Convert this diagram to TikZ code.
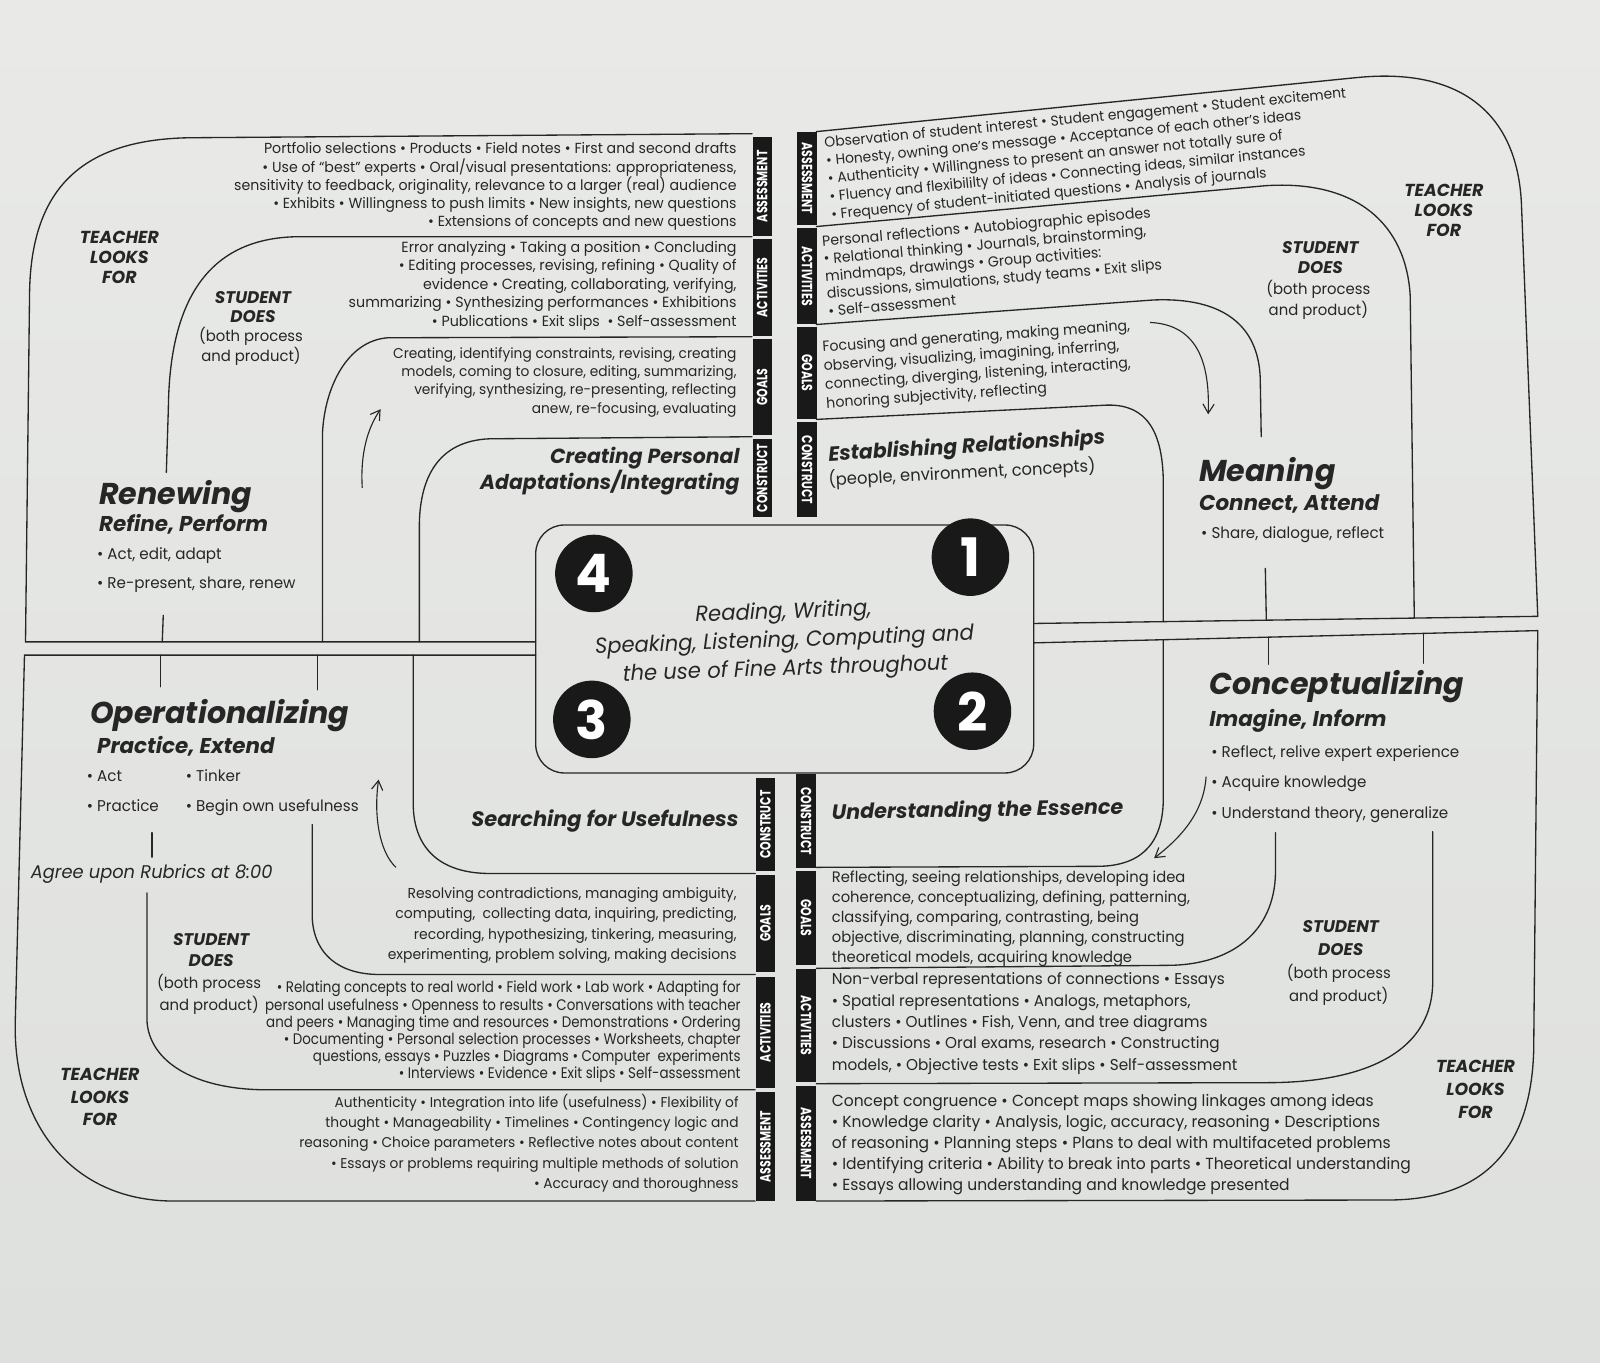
\documentclass[tikz,border=0pt]{standalone}
\usepackage{fontspec}
\setmainfont{Poppins}
\newfontfamily\fut[FakeStretch=0.97]{Poppins}
\newfontfamily\futc[FakeStretch=0.877]{Poppins}
\newfontfamily\barf[FakeStretch=0.74]{Poppins}
\newfontfamily\hdf{Poppins}
\usetikzlibrary{arrows.meta}
\definecolor{paperT}{HTML}{E9EAE8}
\definecolor{paperB}{HTML}{DEE0DD}
\definecolor{ink}{HTML}{262626}
\newcommand{\fs}[2]{\fontsize{#1}{#2}\selectfont}
\begin{document}
\begin{tikzpicture}[x=1pt,y=-1pt,
  ln/.style={draw=ink,line width=1.3pt,line cap=round},
  arr/.style={draw=ink,line width=1.1pt,-{Straight Barb[length=9pt,width=11pt]}},
  barn/.style={fill=black!90,text=white,font=\barf\bfseries\fs{14.5}{14.5},inner sep=0,minimum height=19},
  txR/.style={align=right,anchor=base east,inner sep=0,text=ink},
  txL/.style={align=left,anchor=base west,inner sep=0,text=ink},
  txC/.style={align=center,anchor=base,inner sep=0,text=ink},
  hdA/.style={font=\hdf\bfseries\itshape\fs{29.5}{29.5}},
  hdB/.style={font=\hdf\bfseries\itshape\fs{21}{21}},
  hdC/.style={font=\hdf\bfseries\itshape\fs{20}{23}},
  lab/.style={font=\hdf\bfseries\itshape\fs{17}{19.5}},
  numc/.style={circle,fill=black!90,text=white,minimum size=76,inner sep=0,font=\hdf\bfseries\fs{52}{52}}
]
\useasboundingbox (0,0) rectangle (1568,1335);
\shade[top color=paperT,bottom color=paperB] (0,0) rectangle (1568,1335);

% ---------- upper left quadrant lines
\draw[ln] (737,131) -- (185,135) .. controls (75,137) and (31,190) .. (29,285) -- (25,629) -- (525,629);
\draw[ln] (737,232) -- (290,232) .. controls (200,234) and (166,300) .. (165,400) -- (163,463);
\draw[ln] (160,603) -- (159,629);
\draw[ln] (737,330) -- (380,331) .. controls (340,334) and (318,380) .. (316,425) -- (316,629);
\draw[ln] (737,428) -- (480,430) .. controls (428,432) and (412,470) .. (411,512) -- (411,629);
% ---------- upper right quadrant lines
\draw[ln] (800,129) -- (1330,76) .. controls (1430,66) and (1487,110) .. (1491,200) -- (1507,604) -- (1013,611);
\draw[ln] (800,222) -- (1240,182) .. controls (1330,176) and (1378,220) .. (1382,290) -- (1386,605.7);
\draw[ln] (800,318) -- (1130,294) .. controls (1200,291) and (1233,320) .. (1235,370) -- (1236,428);
\draw[ln] (1240,557) -- (1241,607.8);
\draw[ln] (800,411) -- (1085,397) .. controls (1125,396) and (1139,425) .. (1140,470) -- (1140,609.2);
% ---------- lower right quadrant lines
\draw[ln] (1013,630) -- (1507,618) -- (1503,1030) .. controls (1500,1130) and (1450,1176) .. (1360,1176) -- (800,1177);
\draw[ln] (1395,620.7) -- (1395,650);
\draw[ln] (1404,815) -- (1404,965) .. controls (1402,1035) and (1330,1061) .. (1242,1061) -- (800,1062);
\draw[ln] (1243,624.4) -- (1243,651);
\draw[ln] (1250,816) -- (1250,855) .. controls (1249,915) and (1205,945) .. (1147,946) -- (800,949);
\draw[ln] (1140,626.9) -- (1140,785) .. controls (1139,830) and (1115,849) .. (1075,849) -- (800,850);
% ---------- lower left quadrant lines
\draw[ln] (525,642) -- (24,642) -- (15,1000) .. controls (12,1100) and (70,1177) .. (170,1177) -- (740,1177);
\draw[ln] (157,642) -- (157,673);
\draw[ln] (149,816) -- (149,840);
\draw[ln] (144,875) -- (144,1000) .. controls (146,1040) and (190,1068) .. (262,1068) -- (740,1068);
\draw[ln] (311,642) -- (311,676);
\draw[ln] (306,808) -- (306,900) .. controls (308,935) and (332,955) .. (372,955) -- (740,955);
\draw[ln] (405,642) -- (405,790) .. controls (406,832) and (432,856) .. (480,856) -- (740,856);

% ---------- centre box
\node[draw=ink,line width=1.3pt,rounded corners=28pt,minimum width=488,minimum height=243,inner sep=0] (core) at (769,636) {};

% ---------- label bars
\node[barn,rotate=90,minimum width=97] (ulbA) at (747,182.5) {ASSESSMENT};
\node[barn,rotate=90,minimum width=95] (ulbB) at (747,281.5) {ACTIVITIES};
\node[barn,rotate=90,minimum width=94] (ulbC) at (747,379.5) {GOALS};
\node[barn,rotate=90,minimum width=77] (ulbD) at (747,468.5) {CONSTRUCT};
\node[barn,rotate=-90,minimum width=91] (urbA) at (791,175) {ASSESSMENT};
\node[barn,rotate=-90,minimum width=94] (urbB) at (791,270.5) {ACTIVITIES};
\node[barn,rotate=-90,minimum width=90] (urbC) at (791,365.5) {GOALS};
\node[barn,rotate=-90,minimum width=93] (urbD) at (791,460.5) {CONSTRUCT};
\node[barn,rotate=90,minimum width=92] (llbD) at (750,808) {CONSTRUCT};
\node[barn,rotate=90,minimum width=96] (llbC) at (750,905) {GOALS};
\node[barn,rotate=90,minimum width=109] (llbB) at (750,1011.5) {ACTIVITIES};
\node[barn,rotate=90,minimum width=107] (llbA) at (750,1123.5) {ASSESSMENT};
\node[barn,rotate=-90,minimum width=92] (lrbD) at (790,805) {CONSTRUCT};
\node[barn,rotate=-90,minimum width=92] (lrbC) at (790,899.5) {GOALS};
\node[barn,rotate=-90,minimum width=110] (lrbB) at (790,1005) {ACTIVITIES};
\node[barn,rotate=-90,minimum width=113] (lrbA) at (790,1120.5) {ASSESSMENT};

% ---------- numbers and centre text
\node[numc] (n4) at (582,562) {4};
\node[numc] (n1) at (951,546) {1};
\node[numc] (n3) at (580,705) {3};
\node[numc] (n2) at (953,697) {2};
\node[txC,rotate=2,font=\fut\itshape\fs{21.3}{28}] (mid) at (770,662) {Reading, Writing,\\Speaking, Listening, Computing and\\the use of Fine Arts throughout};

% ---------- arrows
\coordinate (ulA1) at (355,478); \coordinate (ulA2) at (373,401);
\draw[arr] (ulA1) .. controls (353,445) and (360,420) .. (ulA2);
\coordinate (urA1) at (1127,316); \coordinate (urA2) at (1184,406);
\draw[arr] (urA1) .. controls (1170,318) and (1186,350) .. (urA2);
\coordinate (lrA1) at (1182,761); \coordinate (lrA2) at (1131,841);
\draw[arr] (lrA1) .. controls (1180,790) and (1165,815) .. (lrA2);
\coordinate (llA1) at (388,850); \coordinate (llA2) at (371,764);
\draw[arr] (llA1) .. controls (372,835) and (366,800) .. (llA2);

% ---------- upper left texts
\node[txR,font=\fut\fs{14.3}{17.8}] (ulAs) at (722,222) {Portfolio selections • Products • Field notes • First and second drafts\\• Use of “best” experts • Oral/visual presentations: appropriateness,\\sensitivity to feedback, originality, relevance to a larger (real) audience\\• Exhibits • Willingness to push limits • New insights, new questions\\• Extensions of concepts and new questions};
\node[txR,font=\fut\fs{14.4}{18.25}] (ulAc) at (722,320) {Error analyzing • Taking a position • Concluding\\• Editing processes, revising, refining • Quality of\\evidence • Creating, collaborating, verifying,\\summarizing • Synthesizing performances • Exhibitions\\• Publications • Exit slips \ • Self-assessment};
\node[txR,font=\fut\fs{13.9}{18}] (ulGo) at (722,405) {Creating, identifying constraints, revising, creating\\models, coming to closure, editing, summarizing,\\verifying, synthesizing, re-presenting, reflecting\\anew, re-focusing, evaluating};
\node[txR,hdC] (ulCo) at (725,480) {Creating Personal\\Adaptations/Integrating};

% ---------- upper right texts
\node[txL,rotate=5.5,font=\fut\fs{14}{17.6}] (urAs) at (815,215) {Observation of student interest • Student engagement • Student excitement\\• Honesty, owning one’s message • Acceptance of each other’s ideas\\• Authenticity • Willingness to present an answer not totally sure of\\• Fluency and flexibililty of ideas • Connecting ideas, similar instances\\• Frequency of student-initiated questions • Analysis of journals};
\node[txL,rotate=5,font=\fut\fs{14.3}{17.2}] (urAc) at (812,310) {Personal reflections • Autobiographic episodes\\• Relational thinking • Journals, brainstorming,\\mindmaps, drawings • Group activities:\\discussions, simulations, study teams • Exit slips\\• Self-assessment};
\node[txL,rotate=4,font=\fut\fs{14.3}{18.4}] (urGo) at (810,400) {Focusing and generating, making meaning,\\observing, visualizing, imagining, inferring,\\connecting, diverging, listening, interacting,\\honoring subjectivity, reflecting};
\node[txL,rotate=3.5,font=\hdf\bfseries\itshape\fs{20}{20}] (urCo) at (812,452) {Establishing Relationships};
\node[txL,rotate=3,font=\fut\fs{16.5}{16.5}] (urCo2) at (812,476) {(people, environment, concepts)};

% ---------- lower left texts
\node[txR,font=\hdf\bfseries\itshape\fs{20.5}{20.5}] (llCo) at (724,810) {Searching for Usefulness};
\node[txR,font=\fut\fs{14.1}{19.7}] (llGo) at (722,940) {Resolving contradictions, managing ambiguity,\\computing, \ collecting data, inquiring, predicting,\\recording, hypothesizing, tinkering, measuring,\\experimenting, problem solving, making decisions};
\node[txR,font=\futc\fs{15}{16.8}] (llAc) at (726,1057) {• Relating concepts to real world • Field work • Lab work • Adapting for\\personal usefulness • Openness to results • Conversations with teacher\\and peers • Managing time and resources • Demonstrations • Ordering\\• Documenting • Personal selection processes • Worksheets, chapter\\questions, essays • Puzzles • Diagrams • Computer \ experiments\\• Interviews • Evidence • Exit slips • Self-assessment};
\node[txR,font=\fut\fs{13.9}{20}] (llAs) at (724,1165) {Authenticity • Integration into life (usefulness) • Flexibility of\\thought • Manageability • Timelines • Contingency logic and\\reasoning • Choice parameters • Reflective notes about content\\• Essays or problems requiring multiple methods of solution\\• Accuracy and thoroughness};

% ---------- lower right texts
\node[txL,rotate=1,font=\hdf\bfseries\itshape\fs{20.3}{20.3}] (lrCo) at (815,803) {Understanding the Essence};
\node[txL,font=\fut\fs{14.9}{19.5}] (lrGo) at (815,943) {Reflecting, seeing relationships, developing idea\\coherence, conceptualizing, defining, patterning,\\classifying, comparing, contrasting, being\\objective, discriminating, planning, constructing\\theoretical models, acquiring knowledge};
\node[txL,font=\fut\fs{15.4}{21}] (lrAc) at (815,1049) {Non-verbal representations of connections • Essays\\• Spatial representations • Analogs, metaphors,\\clusters • Outlines • Fish, Venn, and tree diagrams\\• Discussions • Oral exams, research • Constructing\\models, • Objective tests • Exit slips • Self-assessment};
\node[txL,font=\fut\fs{15.7}{20.7}] (lrAs) at (815,1167) {Concept congruence • Concept maps showing linkages among ideas\\• Knowledge clarity • Analysis, logic, accuracy, reasoning • Descriptions\\of reasoning • Planning steps • Plans to deal with multifaceted problems\\• Identifying criteria • Ability to break into parts • Theoretical understanding\\• Essays allowing understanding and knowledge presented};

% ---------- side labels
\node[txC,lab] (ulT) at (117,278) {TEACHER\\LOOKS\\FOR};
\node[txC,font=\fut\fs{15}{19}] (ulS) at (246,354) {{\hdf\bfseries\itshape\fs{16.5}{19} STUDENT}\\{\hdf\bfseries\itshape\fs{16.5}{19} DOES}\\(both process\\and product)};
\node[txC,lab] (urT) at (1415,232) {TEACHER\\LOOKS\\FOR};
\node[txC,font=\fut\fs{15}{20.5}] (urS) at (1292,309.5) {{\hdf\bfseries\itshape\fs{16.5}{20.5} STUDENT}\\{\hdf\bfseries\itshape\fs{16.5}{20.5} DOES}\\(both process\\and product)};
\node[txC,font=\fut\fs{15}{21.3}] (llS) at (205,990) {{\hdf\bfseries\itshape\fs{16.5}{21.3} STUDENT}\\{\hdf\bfseries\itshape\fs{16.5}{21.3} DOES}\\(both process\\and product)};
\node[txC,font=\hdf\bfseries\itshape\fs{17}{22}] (llT) at (98,1103) {TEACHER\\LOOKS\\FOR};
\node[txC,font=\fut\fs{15}{22.5}] (lrS) at (1312,981.5) {{\hdf\bfseries\itshape\fs{16.5}{22.5} STUDENT}\\{\hdf\bfseries\itshape\fs{16.5}{22.5} DOES}\\(both process\\and product)};
\node[txC,font=\hdf\bfseries\itshape\fs{17}{22.5}] (lrT) at (1446,1096) {TEACHER\\LOOKS\\FOR};

% ---------- stage headings
\node[txL,hdA] (renA) at (97,494) {Renewing};
\node[txL,hdB] (renB) at (97,521) {Refine, Perform};
\node[txL,font=\fut\fs{15.3}{29}] (renC) at (95,577) {• Act, edit, adapt\\• Re-present, share, renew};
\node[txL,hdA] (meaA) at (1175,472) {Meaning};
\node[txL,hdB] (meaB) at (1175,500) {Connect, Attend};
\node[txL,font=\fut\fs{15.3}{29}] (meaC) at (1177,528) {• Share, dialogue, reflect};
\node[txL,hdA] (opA) at (88,709) {Operationalizing};
\node[txL,hdB] (opB) at (95,738) {Practice, Extend};
\node[txL,font=\fut\fs{15.3}{29}] (opC) at (85,795) {• Act\\• Practice};
\node[txL,font=\fut\fs{15.3}{29}] (opD) at (182,795) {• Tinker\\• Begin own usefulness};
\node[txL,font=\fut\itshape\fs{18}{18}] (rub) at (30,861) {Agree upon Rubrics at 8:00};
\node[txL,hdA] (conA) at (1185,681) {Conceptualizing};
\node[txL,hdB] (conB) at (1185,712) {Imagine, Inform};
\node[txL,font=\fut\fs{15.3}{30}] (conC) at (1187,802) {• Reflect, relive expert experience\\• Acquire knowledge\\• Understand theory, generalize};
\end{tikzpicture}
\end{document}
